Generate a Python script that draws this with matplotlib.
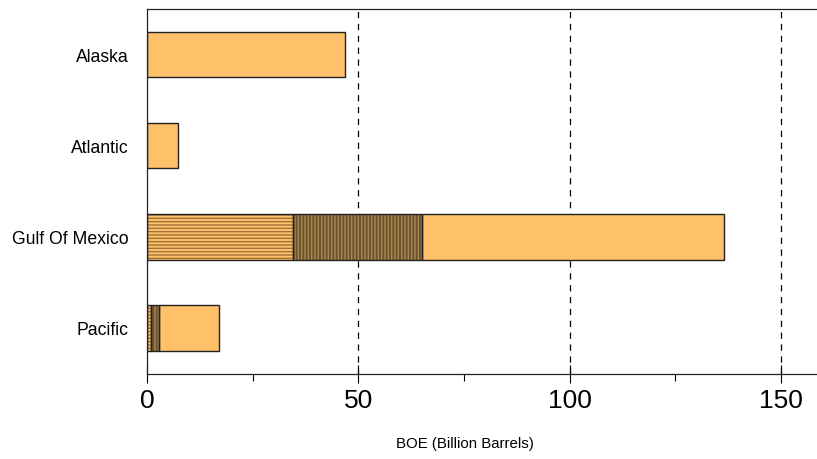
import matplotlib
matplotlib.use('Agg')
from matplotlib import pyplot as plt
import numpy as np

plt.rcParams['font.family'] = ['Liberation Sans', 'DejaVu Sans']
plt.rcParams['hatch.linewidth'] = 1.0

# data, bottom to top
regions = ['Pacific', 'Gulf Of Mexico', 'Atlantic', 'Alaska']
seg_horiz = [0.95, 34.5, 0.0, 0.0]     # horizontally hatched part
seg_vert = [1.95, 30.6, 0.0, 0.0]      # vertically hatched part
seg_plain = [14.1, 71.4, 7.25, 46.8]   # plain orange part

y = np.arange(len(regions))
h = 0.5
left2 = np.array(seg_horiz)
left3 = left2 + np.array(seg_vert)

fig = plt.figure(figsize=(8.17, 4.6), dpi=100)
ax = fig.add_axes([147/817, 1 - 374.5/460, 1 - 147/817, (374.5 - 10)/460])

# hatched fills first (hatch colour = edgecolor), then black outlines
ax.barh(y, seg_horiz, height=h, color='#FFC06A', edgecolor='#A0723A', hatch='-----', linewidth=0)
ax.barh(y, seg_vert, left=left2, height=h, color='#6E5430', edgecolor='#A8874F', hatch='|||||', linewidth=0)
ax.barh(y, seg_plain, left=left3, height=h, color='#FFC06A', linewidth=0)
for vals, lefts in [(seg_horiz, 0), (seg_vert, left2), (seg_plain, left3)]:
    vals = np.array(vals)
    lefts = np.zeros(len(vals)) + lefts
    keep = vals > 0
    ax.barh(y[keep], vals[keep], left=lefts[keep], height=h, fill=False,
            edgecolor='#222222', linewidth=1.0)

for xv in [50, 100, 150]:
    ax.axvline(xv, color='black', linestyle=(0, (5, 4.5)), linewidth=0.9, zorder=0)

ax.set_xlim(0, 158.5)
ax.set_ylim(-0.5, 3.5)
ax.set_xticks([0, 50, 100, 150])
ax.set_xticks([25, 75, 125], minor=True)
ax.set_yticks(y)
ax.set_yticklabels(regions, fontsize=12.7)
ax.tick_params(axis='x', which='major', direction='inout', length=13, width=0.8, labelsize=19, pad=4)
ax.tick_params(axis='x', which='minor', direction='out', length=5, width=0.8)
ax.tick_params(axis='y', length=0, pad=13.5)

ax.spines['right'].set_visible(False)
for s in ['left', 'bottom', 'top']:
    ax.spines[s].set_linewidth(0.9)
    ax.spines[s].set_color('#222222')

ax.set_xlabel('BOE (Billion Barrels)', fontsize=10.8, va='center')
ax.xaxis.set_label_coords((465 - 147)/670, (374.5 - 444)/364.5)

plt.savefig('out.png', dpi=100)
